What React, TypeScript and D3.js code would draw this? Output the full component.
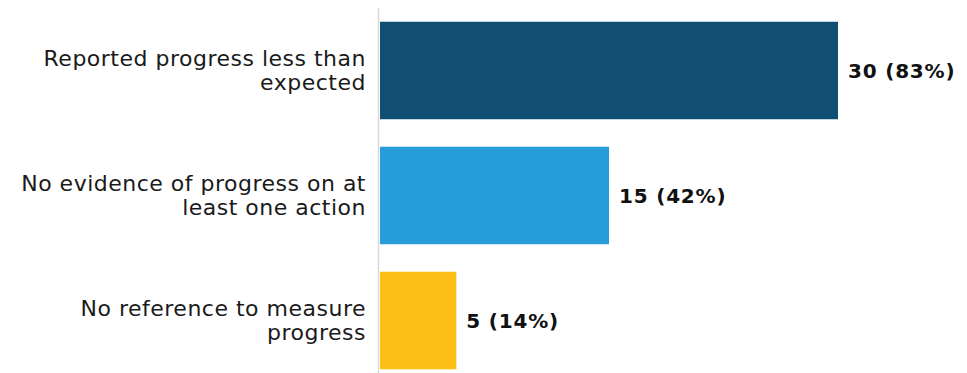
import React from "react";
import * as d3 from "d3";

const categories: string[][] = [
  ["Reported progress less than", "expected"],
  ["No evidence of progress on at", "least one action"],
  ["No reference to measure", "progress"],
];
const counts = [30, 15, 5];
const percents = [83, 42, 14];
const colors = ["#114f72", "#269cd8", "#fbbf15"];

export default function App() {
  const W = 967;
  const H = 373;
  const x0 = 380;
  const x = d3.scaleLinear().domain([0, 30]).range([x0, 838]);
  const y = d3
    .scaleBand<number>()
    .domain(d3.range(counts.length))
    .range([8, 383])
    .paddingInner(0.22)
    .paddingOuter(0.11);
  const font = "'DejaVu Sans', sans-serif";
  return (
    <svg
      width={W}
      height={H}
      style={{ position: "absolute", left: 0, top: 0 }}
      fontFamily={font}
    >
      {counts.map((c, i) => {
        const yy = y(i)!;
        const bw = y.bandwidth();
        const cy = yy + bw / 2;
        return (
          <g key={i}>
            <rect x={x(0)} y={yy} width={x(c) - x(0)} height={bw} fill={colors[i]} />
            <text
              x={x(c) + 10}
              y={cy}
              dy="0.35em"
              fontSize={20}
              letterSpacing={0.8}
              fontWeight="bold"
              fill="#111"
            >
              {`${c} (${percents[i]}%)`}
            </text>
            <text textAnchor="end" fontSize={22} letterSpacing={0.5} fill="#1a1a1a">
              {categories[i].map((line, j) => (
                <tspan key={j} x={366} y={cy + (j - (categories[i].length - 1) / 2) * 24} dy="0.35em">
                  {line}
                </tspan>
              ))}
            </text>
          </g>
        );
      })}
      <line x1={378.5} x2={378.5} y1={8} y2={H} stroke="#d9d9d9" strokeWidth={1.5} />
    </svg>
  );
}
